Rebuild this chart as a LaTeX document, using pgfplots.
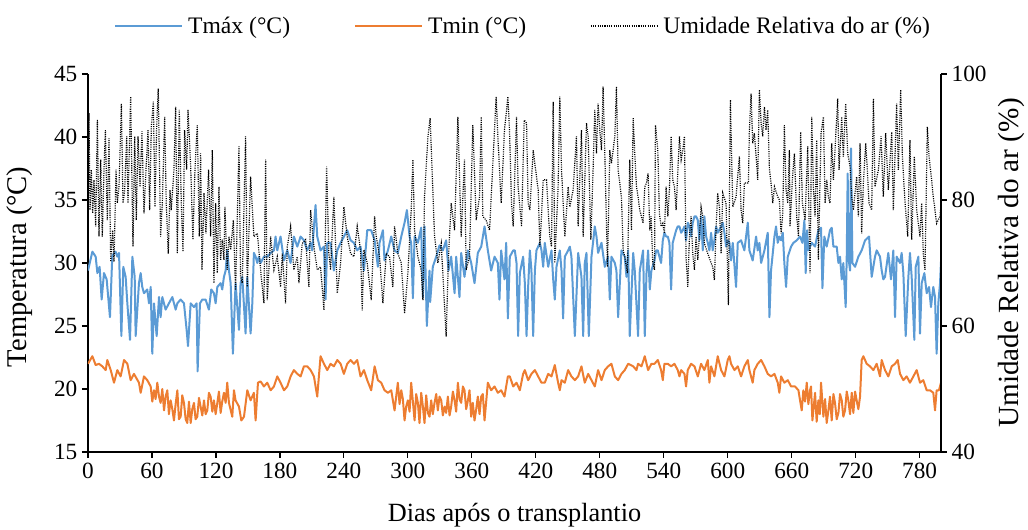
\documentclass[border=0pt]{standalone}
\usepackage{pgfplots}
\pgfplotsset{compat=1.18}
\usepackage{fontspec}
\setmainfont{Liberation Serif}
\definecolor{tmax}{RGB}{91,155,213}
\definecolor{tmin}{RGB}{237,125,49}
\begin{document}
\begin{tikzpicture}
\path[use as bounding box] (-66bp,-58.5bp) rectangle (705bp,339bp);
\pgfplotsset{
  base/.style={
    at={(0,0)}, anchor=south west,
    scale only axis, width=639.75bp, height=283.5bp,
    xmin=0, xmax=800,
    tick align=outside, major tick length=4.5bp,
    axis line style={line width=0.9bp, black},
    every tick/.style={line width=0.9bp, black},
    /pgf/number format/assume math mode=true,
    tick label style={font=\fontsize{17.5}{20}\selectfont},
    label style={font=\fontsize{20}{24}\selectfont},
  }
}
\begin{axis}[base,
  axis x line*=bottom, axis y line*=left,
  ymin=15, ymax=45, ytick={15,20,...,45},
  xtick={0,60,...,780},
  xlabel={Dias após o transplantio},
  xlabel style={at={(axis description cs:0.5,-0.1667)}, anchor=center, font=\fontsize{19.8}{24}\selectfont},
  ylabel={Temperatura (°C)},
  ylabel style={at={(axis description cs:-0.0797,0.49)}, anchor=center, font=\fontsize{21.5}{26}\selectfont},
]
\addplot[tmax, line width=1.5bp, line join=round] coordinates {
(0,29.4)(4.1,30.9)(7.2,30.5)(8.8,29.2)(10.9,29.7)(12.8,27.1)(15,29.2)(17.5,28.7)(20.6,25.7)(22.8,30.6)(25.9,30.9)(27.5,30.5)(29.1,30.8)(31.3,24.2)(33.1,29.7)(35.3,28.9)(36.9,26.8)(39.4,23.9)(41.6,30.5)(43.8,28.9)(44.7,24.2)(47.8,28.4)(49.4,29.2)(50.9,28.1)(52.5,27.6)(55.6,27.9)(57.2,26.8)(58.8,28.1)(60.3,22.8)(61.9,26.8)(64.4,24.2)(66.6,27.3)(68.1,25.7)(69.7,27.3)(72.8,26.3)(75.9,26.8)(79.1,27.3)(82.2,26.3)(83.8,26.8)(86.9,27.1)(90,26.8)(92.5,24.7)(93.8,23.4)(96.3,26.8)(99.4,26.5)(101.9,26.8)(102.8,21.4)(105,26.8)(107.2,27.1)(110.3,27.1)(113.4,26.3)(115.6,27.9)(118.1,27.6)(119.7,26.8)(121.3,28.1)(124.4,28.4)(125.9,27.9)(127.5,28.9)(129.1,29.4)(130.6,31.0)(132.2,29.4)(133.8,28.4)(135.9,22.8)(138.4,28.4)(141.6,24.7)(143.1,28.4)(144.7,28.9)(147.8,24.4)(149.4,28.9)(152.5,24.4)(154.1,26.8)(155.6,30.8)(157.2,30.5)(158.8,30.0)(160.3,30.5)(161.9,30.0)(165,30.5)(168.1,30.5)(171.3,30.8)(174.4,31.0)(175.9,32.1)(177.5,31.0)(180.6,32.1)(183.8,30.2)(186.9,31.0)(190,30.0)(193.1,32.1)(196.3,31.3)(199.4,32.1)(202.5,31.8)(205.6,31.0)(208.8,31.6)(210.3,31.0)(213.4,34.6)(215,32.1)(218.1,31.0)(221.3,31.3)(222.8,27.1)(224.4,31.6)(227.5,31.6)(230.6,29.4)(233.8,31.0)(236.9,31.6)(240,32.1)(243.1,32.6)(246.3,31.8)(249.4,31.6)(252.5,31.0)(255.6,31.3)(258.8,29.4)(261.9,32.6)(265.6,32.6)(268.8,31.8)(271.9,29.7)(273.4,31.6)(276.6,32.6)(278.1,30.2)(281.3,31.0)(284.4,32.1)(287.5,31.0)(290.6,30.8)(293.8,32.1)(296.9,33.2)(299.1,34.2)(301.6,32.1)(303.1,31.6)(304.7,27.2)(306.3,32.1)(309.4,31.6)(312.5,32.8)(314.1,27.3)(315.6,32.9)(317.8,25.0)(320.3,29.4)(320.9,26.9)(323.4,29.7)(326.6,30.5)(329.7,31.4)(332.8,31.0)(335.9,31.8)(338.1,29.4)(340.6,30.5)(343.8,27.6)(345.3,30.5)(348.4,27.3)(350,30.8)(353.1,28.9)(356.3,31.0)(359.4,30.0)(362.5,28.4)(365.6,30.8)(368.8,31.3)(371.9,32.9)(375,31.0)(378.1,29.4)(381.3,30.5)(384.4,30.0)(385.9,27.1)(387.5,31.0)(390.6,28.7)(392.2,31.6)(393.8,25.6)(395.6,30.5)(398.8,31.0)(400.3,31.0)(401.9,30.0)(403.4,24.2)(405,29.2)(408.1,30.5)(409.7,28.4)(411.3,24.2)(412.8,28.1)(414.4,31.0)(415.9,29.4)(417.5,24.2)(419.1,29.4)(420.6,31.0)(423.8,31.6)(425.3,31.0)(426.9,29.7)(428.4,31.6)(431.6,29.7)(434.7,31.0)(436.3,28.7)(437.8,27.1)(439.4,29.7)(442.5,31.0)(444.1,29.4)(445.6,25.6)(447.2,30.5)(450.3,31.0)(451.9,31.3)(453.4,30.5)(456.6,24.2)(459.7,30.8)(462.8,28.9)(464.4,24.2)(465.9,30.0)(467.5,30.8)(469.7,24.2)(472.2,30.5)(475.3,32.9)(476.9,32.1)(478.4,30.8)(481.6,31.6)(484.7,29.7)(487.8,30.5)(489.4,27.1)(490.9,30.5)(494.1,30.0)(495.6,29.4)(497.2,25.7)(500.3,31.0)(503.4,30.5)(505,28.9)(506.6,31.0)(508.1,24.2)(511.3,30.8)(512.8,29.4)(515.9,24.2)(517.5,29.4)(520.6,31.0)(522.2,24.2)(523.8,29.2)(525.3,31.0)(526.9,27.9)(528.4,29.4)(531.3,30.2)(532.8,31.0)(534.4,31.0)(535.9,30.5)(537.5,30.0)(539.1,31.8)(540.6,32.4)(542.2,32.1)(543.8,32.1)(545.3,31.6)(546.9,27.9)(548.4,31.6)(550,32.1)(551.6,32.6)(553.1,32.9)(554.7,32.9)(556.3,32.4)(557.8,32.6)(559.4,32.9)(560.9,31.8)(562.5,33.2)(564.1,32.9)(565.6,32.1)(567.2,33.2)(568.8,33.7)(570.3,33.7)(571.9,33.4)(573.4,31.8)(575,33.7)(576.6,31.0)(578.1,33.7)(579.7,32.1)(581.3,31.6)(582.8,31.0)(584.4,32.4)(585.9,31.0)(587.5,31.8)(589.1,32.9)(590.6,32.4)(593.8,32.9)(595.3,33.2)(596.9,32.4)(598.4,31.3)(600,31.8)(601.6,31.6)(603.1,30.2)(604.7,31.6)(607.8,28.1)(609.4,31.6)(612.5,31.8)(615.6,31.0)(618.8,33.2)(620.3,31.0)(623.4,30.2)(626.6,32.1)(628.1,31.0)(629.7,31.6)(631.3,30.0)(634.4,31.0)(637.5,32.4)(639.1,25.7)(640.6,29.4)(643.8,32.1)(645.3,32.9)(646.9,31.6)(648.4,32.1)(650,31.8)(651.6,32.4)(653.1,30.0)(654.7,28.1)(656.3,30.5)(659.4,31.3)(661.6,31.6)(664.7,31.8)(667.8,32.1)(670,31.6)(671.9,33.4)(673.1,29.2)(674.4,32.6)(675.6,31.0)(678.8,31.6)(681.9,31.3)(685,32.6)(687.5,32.8)(688.8,28.0)(690.6,32.1)(692.8,31.3)(695.9,32.6)(697.5,32.8)(699.1,31.3)(702.2,31.3)(703.8,30.0)(705.3,30.5)(706.9,28.7)(708.4,30.0)(710.6,26.5)(711.6,30.5)(712.5,37.1)(713.1,30.5)(714.7,29.4)(715.6,39.1)(716.9,30.0)(719.4,29.7)(722.5,30.5)(725.6,31.0)(728.8,31.8)(732.5,32.1)(735,28.9)(738.1,30.5)(739.7,31.0)(742.8,30.5)(744.4,29.4)(745.9,28.7)(747.5,28.9)(750.6,30.8)(753.1,28.7)(755.3,31.0)(756.9,25.7)(758.4,30.5)(761.6,30.0)(763.1,30.8)(764.7,29.2)(766.9,24.2)(769.4,28.9)(770.9,30.8)(772.5,28.9)(775,23.9)(776.3,29.7)(778.8,30.5)(780.3,24.4)(781.9,28.4)(784.4,29.2)(786.6,27.6)(788.8,28.1)(790.6,26.5)(792.8,28.1)(794.4,27.3)(795.9,22.8)(797.5,26.8)(799.1,28.4)(800,30.1)
};
\addplot[tmin, line width=1.5bp, line join=round] coordinates {
(0,22.0)(4.1,22.6)(7.2,21.9)(10.3,22.0)(13.4,21.8)(16.6,21.5)(18.1,22.3)(21.3,21.5)(24.4,20.5)(27.5,21.5)(30.6,21.0)(33.8,22.3)(36.9,22.0)(40,20.7)(43.1,21.2)(47.8,20.5)(49.4,19.7)(52.5,21.0)(55.6,20.7)(58.8,20.2)(60.3,19.0)(61.9,19.9)(63.4,19.2)(65,20.5)(66.6,19.4)(68.1,18.9)(69.7,20.0)(71.3,18.3)(72.8,19.4)(74.4,19.9)(75.9,18.0)(77.5,19.1)(79.1,18.4)(80.6,17.5)(82.2,18.8)(83.8,19.9)(85.3,17.6)(86.9,17.8)(88.4,19.5)(90,18.9)(91.6,17.6)(93.1,17.3)(94.7,19.0)(96.3,17.3)(97.8,18.4)(99.4,18.9)(100.9,17.6)(102.5,17.8)(104.1,19.3)(105.6,18.6)(107.2,17.9)(108.8,19.1)(110.3,18.0)(111.9,18.3)(113.4,19.7)(115,19.4)(116.6,18.2)(118.1,19.1)(119.7,18.0)(121.3,18.9)(122.8,19.8)(124.4,18.1)(125.9,19.0)(127.5,19.7)(129.1,18.9)(130.6,20.5)(132.2,18.9)(135.3,17.8)(136.9,19.9)(138.4,19.1)(141.6,18.6)(143.8,17.5)(146.3,17.8)(149.4,19.9)(152.5,19.1)(155.6,19.7)(157.2,17.5)(159.4,20.5)(161.9,20.6)(165,20.2)(168.1,20.5)(171.3,19.9)(174.4,20.2)(177.5,21.0)(180.6,20.5)(183.8,19.9)(186.9,20.2)(190,21.0)(193.1,21.5)(196.3,21.2)(199.4,21.0)(202.5,21.8)(205.6,21.8)(208.8,21.5)(211.9,21.0)(215,19.4)(218.1,22.6)(221.3,22.0)(224.4,21.5)(227.5,22.0)(230.6,21.8)(233.8,22.3)(236.9,22.0)(240,21.2)(243.1,22.0)(246.3,22.3)(249.4,22.0)(252.5,22.3)(255.6,21.0)(258.8,21.5)(261.9,20.7)(265.6,19.9)(268.8,21.8)(271.9,20.7)(275,20.5)(278.1,19.9)(281.3,19.7)(284.4,19.9)(287.5,18.3)(290.6,20.5)(292.2,18.8)(293.8,19.9)(295.3,19.2)(296.9,17.5)(298.4,18.6)(300,19.1)(301.6,18.2)(303.1,20.5)(304.7,19.0)(306.3,17.5)(307.8,19.6)(309.4,18.9)(310.9,17.3)(312.5,19.7)(314.1,18.6)(315.6,17.3)(317.2,19.5)(318.8,18.1)(320.3,17.8)(321.9,19.1)(323.4,18.0)(325,18.9)(326.6,19.6)(328.1,18.3)(329.7,19.4)(331.3,19.1)(332.8,17.9)(334.4,18.6)(335.9,18.1)(337.5,19.4)(339.1,17.9)(340.6,18.6)(342.2,19.8)(343.8,19.1)(345.3,18.2)(346.9,20.5)(348.4,19.2)(350,18.9)(351.6,20.2)(353.1,19.9)(354.7,18.4)(356.3,19.1)(357.8,19.9)(359.4,17.8)(360.9,18.9)(362.5,17.5)(364.1,18.4)(365.6,19.4)(367.2,18.0)(368.8,19.4)(370.3,19.6)(371.9,17.5)(375,20.5)(378.1,19.9)(381.3,20.2)(384.4,19.7)(387.5,19.9)(390.6,19.4)(393.8,21.0)(395.6,21.0)(398.8,20.2)(401.9,20.5)(405,19.9)(408.1,21.2)(409.7,21.5)(412.8,20.7)(415.9,21.2)(419.1,21.5)(422.2,21.0)(425.3,20.5)(428.4,20.5)(431.6,21.2)(434.7,21.0)(437.8,21.9)(440.9,20.5)(442.5,19.9)(444.1,20.7)(447.2,20.5)(450.3,21.5)(453.4,21.0)(456.6,20.7)(459.7,21.0)(462.8,21.8)(465.9,20.5)(469.1,21.2)(472.2,20.7)(475.3,20.2)(478.4,21.5)(481.6,20.7)(484.7,21.5)(487.8,21.8)(490.9,22.0)(494.1,21.0)(497.2,20.7)(500.3,21.2)(503.4,21.5)(506.6,22.0)(511.3,21.8)(514.4,21.5)(515.9,22.0)(519.1,21.8)(522.2,22.6)(525.3,21.5)(528.4,22.0)(531.3,22.0)(534.4,22.3)(537.5,21.5)(539.1,20.7)(540.6,22.0)(543.8,22.0)(546.9,21.8)(550,22.0)(553.1,21.5)(554.7,21.0)(556.3,21.5)(559.4,21.2)(560.9,20.2)(562.5,21.5)(565.6,22.0)(568.8,21.8)(571.9,21.0)(575,22.0)(578.1,21.5)(581.3,22.3)(582.8,20.5)(584.4,21.8)(587.5,21.0)(590.6,22.6)(593.8,21.5)(596.9,21.0)(600,22.3)(601.6,22.6)(603.1,22.0)(606.3,21.5)(609.4,21.8)(612.5,21.0)(615.6,21.8)(618.8,22.3)(620.3,21.5)(623.4,20.5)(625,21.5)(628.1,22.0)(631.3,22.3)(634.4,21.8)(637.5,21.2)(640.6,21.0)(643.8,21.2)(646.9,20.5)(648.4,19.7)(650,21.0)(653.1,20.5)(656.3,20.7)(659.4,20.2)(663.1,20.2)(666.3,19.9)(667.8,19.1)(669.4,18.3)(670.9,19.9)(672.5,19.0)(674.1,20.5)(675.6,18.8)(677.2,19.9)(678.1,20.2)(679.4,17.5)(681.9,19.7)(683.4,17.4)(685,19.1)(686.3,18.0)(687.5,20.5)(689.7,17.8)(691.3,19.2)(692.8,17.3)(694.4,18.3)(695.9,19.4)(697.5,17.5)(699.1,19.6)(700.6,18.9)(702.2,17.6)(703.8,18.1)(705.3,19.6)(706.9,19.1)(708.4,17.8)(710,18.3)(711.6,19.8)(713.1,19.1)(714.7,18.0)(716.3,19.7)(717.8,18.1)(719.4,19.8)(720.9,19.1)(722.5,18.4)(724.1,19.4)(725.6,22.3)(727.2,22.6)(730.3,22.0)(733.4,21.8)(736.6,21.5)(739.7,22.0)(742.8,21.0)(744.4,22.3)(747.5,21.5)(750.6,21.0)(753.8,21.8)(756.9,22.0)(759.4,22.3)(761.6,21.2)(764.7,20.7)(767.8,21.0)(770.9,20.5)(774.1,21.0)(777.2,21.5)(780.3,20.5)(783.4,20.7)(786.6,19.9)(789.7,19.9)(792.8,19.7)(794.4,18.3)(795.9,19.9)(798.1,19.9)(800,20.5)
};
\end{axis}
\begin{axis}[base,
  axis x line=none, axis y line*=right,
  ymin=40, ymax=100, ytick={40,60,80,100},
  ylabel={Umidade Relativa do ar (\%)},
  ylabel style={at={(axis description cs:1.0828,0.5)}, anchor=center, font=\fontsize{22}{26}\selectfont},
  legend style={at={(axis description cs:0.512,1.127)}, anchor=center, draw=none, fill=none,
    legend columns=3, font=\fontsize{17.8}{20}\selectfont,
    /tikz/every even column/.append style={column sep=44bp},
    nodes={inner sep=4bp}},
  legend image code/.code={\draw[#1] (0bp,0bp) -- (50bp,0bp);},
]
\addlegendimage{tmax, line width=1.5bp}
\addlegendentry{Tmáx (°C)}
\addlegendimage{tmin, line width=1.5bp}
\addlegendentry{Tmin (°C)}
\addplot[black, line width=0.9bp, dash pattern=on 0.8bp off 0.9bp] coordinates {
(0,75.8)(0.9,93.8)(1.9,78.4)(3.1,84.8)(4.4,77.9)(5.6,83.2)(7.2,75.8)(8.8,92.7)(10.3,74.2)(11.9,86.4)(13.4,74.2)(15,84.8)(16.3,91.1)(18.1,76.8)(19.7,89.8)(21.3,70.2)(23.1,75.2)(24.4,70.2)(26.3,84.8)(27.5,79.5)(29.1,82.1)(31.3,95.3)(32.8,79.5)(34.4,81.6)(36.3,90.1)(37.5,79.5)(40,96.4)(42.2,72.6)(43.8,90.1)(45.3,76.8)(46.9,90.1)(48.8,82.1)(50.6,90.9)(52.5,77.9)(54.4,84.8)(56.3,91.1)(57.8,78.4)(59.4,91.6)(61.3,95.6)(62.8,78.9)(64.4,91.6)(65.9,97.7)(68.1,74.2)(69.7,79.5)(71.9,93.2)(73.4,79.5)(75.3,71.5)(76.9,81.6)(78.1,78.4)(80.6,84.8)(82.2,94.8)(83.8,71.5)(85.6,94.3)(87.5,79.5)(89.1,71.8)(90.6,91.1)(92.5,84.8)(93.8,94.3)(96.3,85.3)(98.4,73.7)(100.3,84.8)(102.5,91.9)(104.4,74.2)(105.6,87.4)(106.9,68.9)(108.8,81.1)(110.6,74.7)(113.1,84.8)(115,74.2)(116.6,87.9)(118.1,66.8)(119.7,79.5)(121.3,68.4)(122.8,82.1)(124.4,70.5)(125.9,73.7)(127.5,70.5)(128.4,78.9)(130.6,68.9)(132.2,74.2)(133.8,72.1)(136.3,76.8)(138.4,65.7)(141.6,88.5)(143.1,67.8)(144.7,66.8)(147.8,90.1)(149.4,66.2)(152.5,83.7)(155.6,74.2)(158.8,74.7)(161.9,68.9)(165,63.6)(166.6,86.4)(168.1,64.1)(171.3,74.2)(174.4,68.9)(177.5,71.0)(180.6,66.2)(182.2,71.5)(185.3,63.6)(186.9,72.6)(190,75.8)(193.1,68.9)(196.3,71.0)(197.8,66.8)(200.9,73.1)(204.1,73.7)(207.2,66.2)(208.8,78.4)(211.9,72.6)(215,68.9)(218.1,69.4)(221.3,62.5)(223.8,85.3)(225.9,71.5)(227.5,68.9)(230.6,80.5)(233.8,65.2)(236.9,70.0)(240,78.9)(243.1,74.2)(246.3,71.5)(249.4,71.0)(252.5,75.8)(255.6,72.1)(257.2,62.5)(258.8,72.1)(261.9,70.0)(265.6,64.1)(268.8,77.4)(270.3,74.2)(273.4,71.0)(276.6,63.6)(279.7,71.5)(282.8,71.0)(285.9,66.2)(287.5,75.8)(290.6,71.5)(293.8,70.0)(296.9,62.0)(300,68.4)(303.1,78.4)(304.7,86.4)(306.3,75.2)(309.4,71.0)(312.5,68.9)(314.1,64.1)(315.6,80.5)(318.8,90.1)(320.9,93.0)(323.4,81.6)(325,74.2)(328.1,70.0)(331.3,73.1)(335.9,58.3)(338.1,71.0)(340.6,79.5)(343.8,75.2)(346.9,93.2)(350,74.2)(353.1,86.4)(354.7,68.9)(357.8,71.0)(360.9,91.9)(364.1,76.8)(367.2,80.5)(368.8,93.2)(370.3,77.4)(373.4,76.8)(376.6,75.2)(379.7,85.8)(382.8,96.4)(384.4,90.1)(387.5,79.5)(390.6,91.1)(393.8,96.4)(395.3,91.1)(397.2,79.5)(398.8,75.8)(401.9,93.2)(403.4,82.1)(405,78.9)(406.6,75.8)(409.1,92.7)(411.3,92.2)(412.8,79.5)(414.4,78.4)(417.5,87.9)(420.6,83.7)(422.2,81.6)(423.8,72.6)(425.3,77.4)(426.9,83.2)(430,83.2)(431.6,78.4)(433.1,74.2)(434.7,72.6)(436.3,95.6)(437.8,70.0)(440.9,82.1)(442.5,96.4)(444.1,84.8)(447.2,74.2)(450.3,82.1)(451.9,78.9)(455,81.6)(458.1,90.1)(459.7,75.8)(462.8,91.1)(464.4,74.2)(467.5,92.2)(469.1,90.1)(471.6,73.7)(473.8,85.3)(475.3,94.3)(476.9,87.4)(478.4,95.3)(480,91.1)(481.6,87.9)(483.1,98.0)(484.7,87.4)(487.2,69.4)(489.4,87.9)(490.9,85.8)(494.1,90.1)(495.6,98.0)(497.2,84.8)(500.3,80.5)(501.9,72.1)(503.4,71.0)(505.9,68.4)(508.1,86.4)(509.7,75.2)(511.3,93.0)(512.8,87.4)(514.4,82.1)(515.9,80.5)(517.5,78.4)(520.6,76.3)(522.2,82.1)(523.8,82.7)(525.3,84.2)(526.9,75.2)(528.1,77.4)(529.7,70.0)(531.3,68.9)(532.2,91.9)(534.4,87.9)(535.9,77.9)(537.5,75.8)(539.1,76.3)(540.6,74.7)(542.2,82.1)(543.8,77.4)(545.3,81.6)(546.9,90.1)(548.4,83.2)(550,82.1)(551.6,78.4)(553.1,84.2)(554.7,90.1)(556.3,86.4)(557.8,87.9)(559.4,90.1)(560.9,71.0)(562.5,66.2)(564.1,74.2)(565.6,77.4)(567.2,71.5)(568.8,68.9)(570.3,74.2)(571.9,70.5)(573.4,74.2)(575,78.9)(576.6,77.4)(578.1,73.1)(581.3,71.5)(584.4,70.0)(585.9,69.4)(587.5,67.3)(589.1,75.8)(590.6,81.1)(592.2,78.9)(593.8,71.5)(595.3,81.1)(598.4,79.5)(600.6,63.3)(602.5,95.9)(604.7,78.9)(607.8,80.5)(610.9,86.9)(612.5,78.4)(614.1,76.3)(615.6,82.7)(619.4,82.7)(620.3,91.1)(621.9,96.9)(623.4,89.0)(625,90.6)(626.6,86.9)(628.1,83.2)(629.7,97.5)(631.3,92.2)(632.8,90.1)(634.4,94.8)(635.9,91.1)(637.5,94.3)(639.1,84.8)(640.6,82.7)(642.2,79.5)(643.8,82.1)(646.9,80.5)(648.4,80.0)(650,74.7)(651.6,77.9)(653.1,91.9)(654.7,81.6)(656.3,79.5)(657.8,87.9)(658.4,75.8)(660.6,83.2)(662.5,87.4)(664.7,77.4)(666.3,74.2)(668.4,90.8)(670,79.5)(672.5,76.8)(675,88.5)(677.2,68.4)(678.8,93.2)(680.3,82.1)(681.9,77.4)(683.4,89.5)(685,70.5)(687.5,90.6)(689.7,93.2)(691.3,79.5)(692.8,83.2)(694.4,80.5)(695.9,79.5)(697.5,89.0)(699.1,83.2)(700.6,87.9)(703.1,96.1)(704.4,84.8)(706.9,93.2)(708.4,86.9)(710.6,95.3)(712.5,87.4)(714.7,85.3)(716.3,80.5)(717.8,78.4)(720.9,83.7)(722.5,77.4)(724.1,89.0)(725.6,74.7)(727.2,82.7)(729.4,89.0)(730.9,84.8)(732.5,79.5)(735,78.4)(736.6,96.1)(738.1,82.1)(741.3,84.8)(743.8,90.1)(745.9,80.5)(748.1,90.6)(750.6,81.6)(753.8,90.8)(755.3,78.4)(758.4,95.3)(760,84.8)(762.2,97.5)(763.8,86.9)(766.3,79.5)(768.8,74.2)(770.9,89.5)(772.5,73.7)(775,86.9)(777.2,78.4)(780.3,74.2)(781.9,79.5)(783.4,71.5)(785,68.9)(787.2,91.6)(788.8,86.9)(790.6,84.2)(792.8,80.5)(794.4,78.4)(795.9,76.3)(799.1,77.4)(800,79.5)
};
\addlegendentry{Umidade Relativa do ar (\%)}
\end{axis}
\end{tikzpicture}
\end{document}
